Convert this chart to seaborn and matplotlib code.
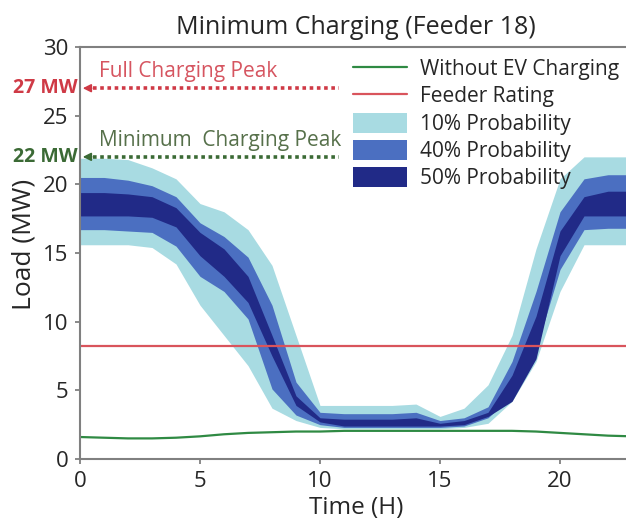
import numpy as np
import pandas as pd
import seaborn as sns
import matplotlib.pyplot as plt

# hourly load values (MW)
hours = list(range(24))
no_ev = [1.6, 1.55, 1.5, 1.5, 1.55, 1.65, 1.8, 1.9, 1.95, 2.0, 2.0, 2.05,
         2.05, 2.05, 2.05, 2.05, 2.05, 2.05, 2.05, 2.0, 1.9, 1.8, 1.7, 1.65]
feeder_rating = 8.2

p10_hi = [21.9, 21.9, 21.8, 21.2, 20.4, 18.6, 18.0, 16.7, 14.1, 9.0, 3.9, 3.9,
          3.9, 3.9, 4.0, 3.1, 3.7, 5.4, 9.0, 15.3, 20.4, 22.0, 22.0, 22.0]
p10_lo = [15.6, 15.6, 15.6, 15.4, 14.2, 11.2, 9.0, 6.8, 3.7, 2.8, 2.3, 2.2,
          2.2, 2.2, 2.2, 2.2, 2.3, 2.6, 4.2, 7.1, 12.2, 15.6, 15.6, 15.6]
p40_hi = [20.5, 20.5, 20.3, 19.9, 19.1, 17.2, 16.2, 14.7, 11.2, 5.6, 3.4, 3.3,
          3.3, 3.3, 3.4, 2.8, 3.0, 3.8, 7.1, 12.2, 18.0, 20.4, 20.7, 20.7]
p40_lo = [16.7, 16.7, 16.6, 16.5, 15.5, 13.3, 12.2, 10.2, 5.1, 3.2, 2.5, 2.3,
          2.3, 2.3, 2.3, 2.3, 2.4, 3.0, 4.6, 8.0, 13.8, 16.7, 16.8, 16.8]
p50_hi = [19.4, 19.4, 19.3, 19.1, 18.3, 16.5, 15.3, 13.3, 9.0, 4.6, 3.0, 2.9,
          2.9, 2.9, 3.0, 2.6, 2.8, 3.4, 6.1, 10.4, 16.6, 19.1, 19.5, 19.5]
p50_lo = [17.7, 17.7, 17.7, 17.6, 16.9, 14.8, 13.3, 11.4, 7.5, 3.9, 2.7, 2.4,
          2.4, 2.4, 2.4, 2.4, 2.5, 3.1, 4.2, 7.3, 14.8, 17.7, 17.7, 17.7]

df = pd.DataFrame({"hour": hours, "no_ev": no_ev})

sns.set_style("ticks")
plt.rcParams['font.family'] = ['Open Sans', 'DejaVu Sans']

c_light, c_mid, c_dark = "#a8dbe2", "#4b6fc1", "#212a87"
c_green, c_red = "#2f8a43", "#d9545c"

fig = plt.figure(figsize=(6.26, 5.23), dpi=100)
ax = fig.add_axes([80 / 626, 64 / 523, 552 / 626, 412 / 523])

ax.fill_between(hours, p10_lo, p10_hi, color=c_light, lw=0, label="10% Probability")
ax.fill_between(hours, p40_lo, p40_hi, color=c_mid, lw=0, label="40% Probability")
ax.fill_between(hours, p50_lo, p50_hi, color=c_dark, lw=0, label="50% Probability")
sns.lineplot(data=df, x="hour", y="no_ev", color=c_green, lw=1.6, ax=ax,
             label="Without EV Charging", legend=False)
ax.axhline(feeder_rating, color=c_red, lw=1.6, label="Feeder Rating")

ax.set_xlim(0, 23)
ax.set_ylim(0, 30)
ax.set_xticks([0, 5, 10, 15, 20])
ax.set_yticks([0, 5, 10, 15, 20, 25, 30])
ax.tick_params(labelsize=16, color="#808080", width=1.3, length=3.5, pad=5)
for s in ["left", "bottom", "top"]:
    ax.spines[s].set_color("#808080")
    ax.spines[s].set_linewidth(1.5)
ax.spines["right"].set_visible(False)
ax.set_xlabel("Time (H)", fontsize=17.5, labelpad=3)
ax.set_ylabel("Load (MW)", fontsize=19)
ax.yaxis.set_label_coords(-0.078, 0.52)
ax.set_title("Minimum Charging (Feeder 18)", fontsize=18, pad=9)

# peak markers
peaks = [(27, "Full Charging Peak", "27 MW", "#cf3a46", "#d65560"),
         (22, "Minimum  Charging Peak", "22 MW", "#3b6a35", "#56704a")]
for val, txt, lab, c_arrow, c_txt in peaks:
    ax.plot([0.55, 10.8], [val, val], color=c_arrow, lw=2.6, ls=(0, (1, 1)),
            clip_on=False)
    ax.annotate("", xy=(0, val), xytext=(0.6, val),
                arrowprops=dict(arrowstyle="-|>", color=c_arrow, lw=1.2,
                                mutation_scale=12), annotation_clip=False)
    ax.text(0.8, val + 1.2, txt, color=c_txt, fontsize=15, va="center", ha="left")
    ax.text(-0.08, val, lab, color=c_arrow, fontsize=14, fontweight="bold",
            va="center", ha="right", clip_on=False)

h, l = ax.get_legend_handles_labels()
order = ["Without EV Charging", "Feeder Rating", "10% Probability",
         "40% Probability", "50% Probability"]
hm = dict(zip(l, h))
fig.legend([hm[k] for k in order], order, loc="upper left",
           bbox_to_anchor=(353 / 626, 1 - 58 / 523), frameon=False,
           borderpad=0, borderaxespad=0, handlelength=2.6,
           handleheight=1.1, handletextpad=0.6, labelspacing=0.25,
           prop={"size": 15})

plt.savefig("out.png", dpi=100)
